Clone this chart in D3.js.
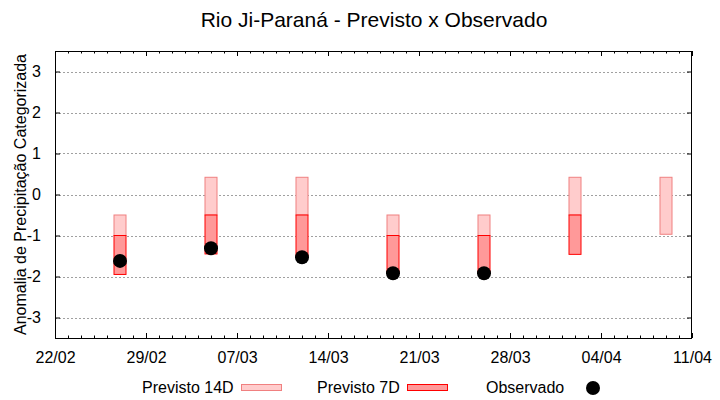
<!DOCTYPE html>
<html>
<head>
<meta charset="utf-8">
<script src="https://cdn.jsdelivr.net/npm/d3@7"></script>
<style>
  body { margin: 0; background: #fff; }
  svg { display: block; font-family: "Liberation Sans", Arial, sans-serif; }
</style>
</head>
<body>
<svg id="chart" width="720" height="400"></svg>
<script>
// ---- data ----
const dates      = ["2024-02-27", "2024-03-05", "2024-03-12", "2024-03-19", "2024-03-26", "2024-04-02", "2024-04-09"];
const prev14Low  = [-1.0, -0.5, -0.5, -1.0, -1.0, -0.5, -0.97];
const prev14High = [-0.5, 0.42, 0.42, -0.5, -0.5, 0.42, 0.42];
const prev7Low   = [-1.95, -1.45, -1.5, -1.9, -1.9, -1.46, null];
const prev7High  = [-1.0, -0.5, -0.5, -1.0, -1.0, -0.5, null];
const observed   = [-1.62, -1.31, -1.53, -1.92, -1.92, null, null];
const yTicks     = [-3, -2, -1, 0, 1, 2, 3];
const xTickDates = ["2024-02-22", "2024-02-29", "2024-03-07", "2024-03-14", "2024-03-21", "2024-03-28", "2024-04-04", "2024-04-11"];
const titleText  = "Rio Ji-Paraná - Previsto x Observado";
const yLabel     = "Anomalia de Precipitação Categorizada";
const legendNames = ["Previsto 14D", "Previsto 7D", "Observado"];

// ---- layout ----
const svg = d3.select("#chart");
const L = 55, R = 692, T = 51, B = 338;
const parse = d3.utcParse("%Y-%m-%d");
const x = d3.scaleUtc().domain([parse("2024-02-22"), parse("2024-04-11")]).range([L, R]);
const y = d3.scaleLinear().domain([-3.5, 3.5]).range([B, T]);
const barW = 12;
const FS = 16;

const c14Fill = "#ffcccc", c14Stroke = "#f08080";
const c7Fill = "#ff9999", c7Stroke = "#ff0000";

// grid
svg.append("g").selectAll("line").data(yTicks).join("line")
  .attr("x1", L).attr("x2", R)
  .attr("y1", d => Math.round(y(d)) + 0.5).attr("y2", d => Math.round(y(d)) + 0.5)
  .attr("stroke", "#a0a0a0").attr("stroke-width", 1).attr("stroke-dasharray", "2,2");

// axes (ticks inside)
const majorDates = xTickDates.map(parse);
const minorDates = d3.utcDay.range(parse("2024-02-22"), d3.utcDay.offset(parse("2024-04-11"), 1));
const fmt = d3.utcFormat("%d/%m");

const gx = svg.append("g").attr("transform", `translate(0,${B})`)
  .call(d3.axisBottom(x).tickValues(majorDates).tickFormat(fmt).tickSizeInner(-5).tickSizeOuter(0).tickPadding(14));
gx.select(".domain").remove();
gx.selectAll("text").attr("font-size", FS).attr("fill", "#000").attr("font-family", "Liberation Sans, Arial, sans-serif");
gx.selectAll("line").attr("stroke", "#000");

const gxm = svg.append("g").attr("transform", `translate(0,${B})`)
  .call(d3.axisBottom(x).tickValues(minorDates).tickFormat("").tickSizeInner(-2.5).tickSizeOuter(0));
gxm.select(".domain").remove();
gxm.selectAll("line").attr("stroke", "#000");

const gxt = svg.append("g").attr("transform", `translate(0,${T})`)
  .call(d3.axisTop(x).tickValues(majorDates).tickFormat("").tickSizeInner(-5).tickSizeOuter(0));
gxt.select(".domain").remove();
const gxtm = svg.append("g").attr("transform", `translate(0,${T})`)
  .call(d3.axisTop(x).tickValues(minorDates).tickFormat("").tickSizeInner(-2.5).tickSizeOuter(0));
gxtm.select(".domain").remove();

const gy = svg.append("g").attr("transform", `translate(${L},0)`)
  .call(d3.axisLeft(y).tickValues(yTicks).tickFormat(d3.format("d")).tickSizeInner(-5).tickSizeOuter(0).tickPadding(14));
gy.select(".domain").remove();
gy.selectAll("text").attr("font-size", FS).attr("fill", "#000").attr("font-family", "Liberation Sans, Arial, sans-serif");
gy.selectAll("text").text(d => d < 0 ? "-" + Math.abs(d) : d);

const gyr = svg.append("g").attr("transform", `translate(${R},0)`)
  .call(d3.axisRight(y).tickValues(yTicks).tickFormat("").tickSizeInner(-5).tickSizeOuter(0));
gyr.select(".domain").remove();

// frame
svg.append("rect").attr("x", L + 0.5).attr("y", T + 0.5).attr("width", R - L - 1).attr("height", B - T)
  .attr("fill", "none").attr("stroke", "#000").attr("stroke-width", 1);

// bars
const rows = dates.map((d, i) => ({
  date: parse(d), lo14: prev14Low[i], hi14: prev14High[i],
  lo7: prev7Low[i], hi7: prev7High[i], obs: observed[i]
}));

svg.append("g").selectAll("rect").data(rows).join("rect")
  .attr("x", d => x(d.date) - barW / 2)
  .attr("y", d => y(d.hi14))
  .attr("width", barW)
  .attr("height", d => y(d.lo14) - y(d.hi14))
  .attr("fill", c14Fill).attr("stroke", c14Stroke).attr("stroke-width", 1);

svg.append("g").selectAll("rect").data(rows.filter(d => d.lo7 != null)).join("rect")
  .attr("x", d => x(d.date) - barW / 2)
  .attr("y", d => y(d.hi7))
  .attr("width", barW)
  .attr("height", d => y(d.lo7) - y(d.hi7))
  .attr("fill", c7Fill).attr("stroke", c7Stroke).attr("stroke-width", 1);

svg.append("g").selectAll("circle").data(rows.filter(d => d.obs != null)).join("circle")
  .attr("cx", d => x(d.date))
  .attr("cy", d => y(d.obs))
  .attr("r", 7).attr("fill", "#000");

// title
svg.append("text").attr("x", 374).attr("y", 27).attr("text-anchor", "middle")
  .attr("font-size", 21).attr("fill", "#000").text(titleText);

// y label
svg.append("text").attr("transform", `translate(26,${(T + B) / 2}) rotate(-90)`)
  .attr("text-anchor", "middle").attr("font-size", FS).attr("fill", "#000").text(yLabel);

// legend
const lg = svg.append("g");
const legY = 388;
lg.append("text").attr("x", 142).attr("y", legY + 5).attr("font-size", FS).text(legendNames[0]);
lg.append("rect").attr("x", 241.5).attr("y", legY - 3.5).attr("width", 40).attr("height", 6)
  .attr("fill", c14Fill).attr("stroke", c14Stroke);
lg.append("text").attr("x", 317).attr("y", legY + 5).attr("font-size", FS).text(legendNames[1]);
lg.append("rect").attr("x", 407.5).attr("y", legY - 3.5).attr("width", 40).attr("height", 6)
  .attr("fill", c7Fill).attr("stroke", c7Stroke);
lg.append("text").attr("x", 486).attr("y", legY + 5).attr("font-size", FS).text(legendNames[2]);
lg.append("circle").attr("cx", 593).attr("cy", legY).attr("r", 7).attr("fill", "#000");
</script>
</body>
</html>
